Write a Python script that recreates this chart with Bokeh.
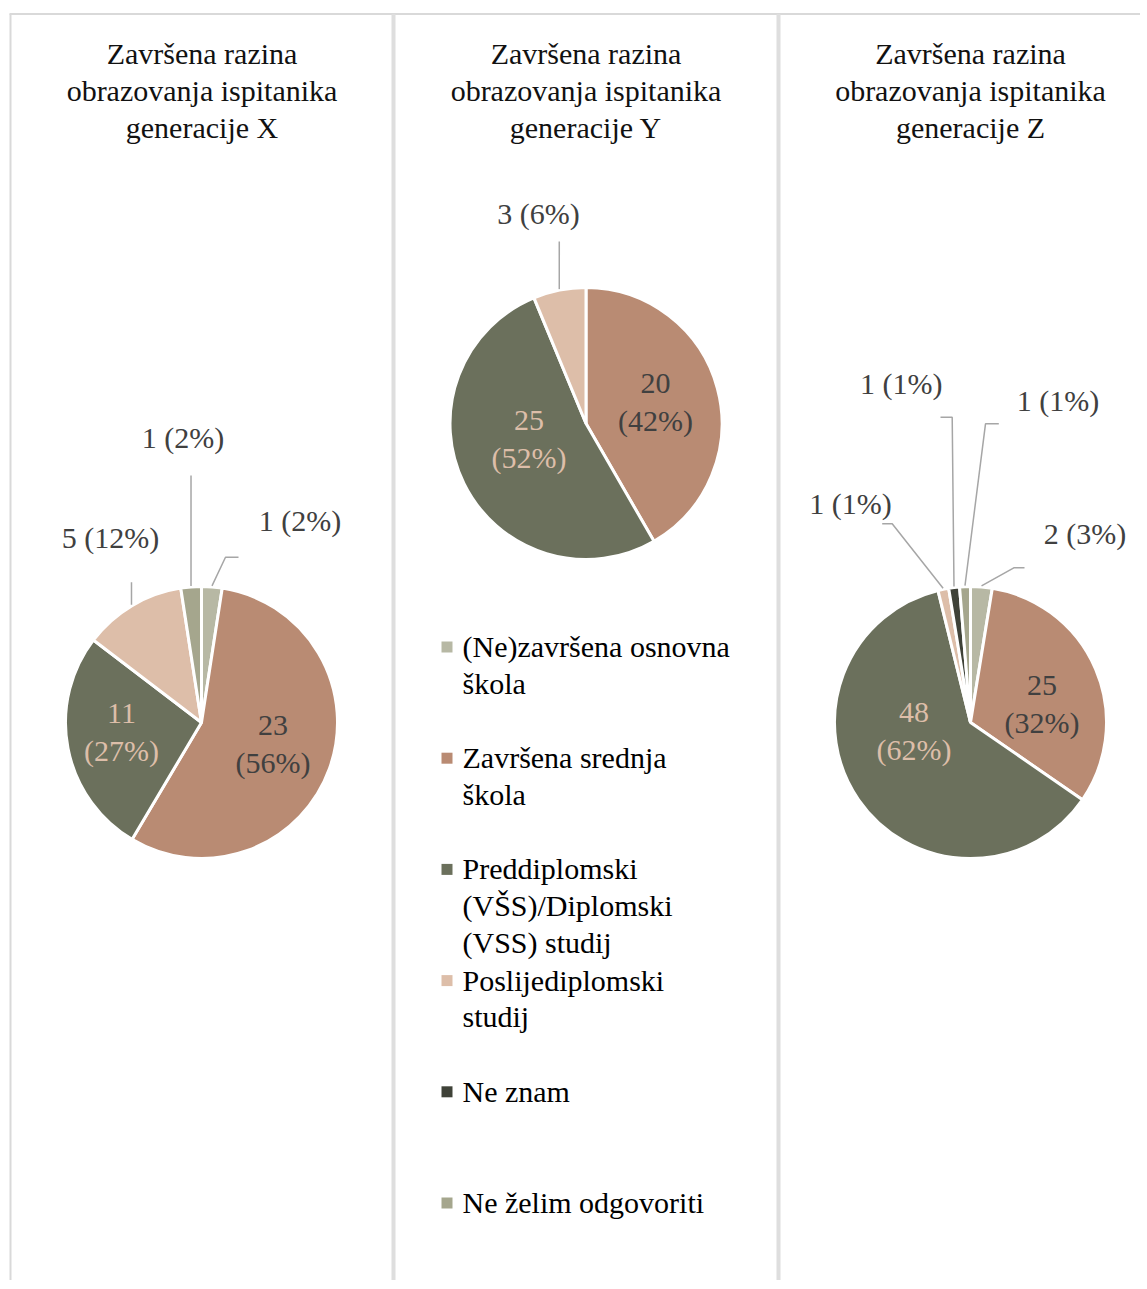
import math
import textwrap
from bokeh.plotting import figure
from bokeh.models import Range1d
from bokeh.embed import file_html
from bokeh.resources import INLINE
from bokeh.core.properties import value

# ---------------- data ----------------
categories = [
    "(Ne)završena osnovna škola",
    "Završena srednja škola",
    "Preddiplomski (VŠS)/Diplomski (VSS) studij",
    "Poslijediplomski studij",
    "Ne znam",
    "Ne želim odgovoriti",
]
gen_x = [1, 23, 11, 5, 0, 1]
gen_y = [0, 20, 25, 3, 0, 0]
gen_z = [2, 25, 48, 1, 1, 1]
titles = [
    "Završena razina obrazovanja ispitanika generacije X",
    "Završena razina obrazovanja ispitanika generacije Y",
    "Završena razina obrazovanja ispitanika generacije Z",
]

# ---------------- styles / layout ----------------
colors = ["#b7b8a4", "#b98b73", "#6b705c", "#ddbea9", "#3f4238", "#a5a68d"]
FONT = "Liberation Serif"
FS = "30px"
DARK = "#404040"
LEAD = "#a6a6a6"
W, H = 1140, 1280
TFIX = -11  # baseline correction for text rendering
R = 136
centers = [(201, 722), (585.5, 423), (970, 722)]
title_x = [201.5, 585.5, 970]
title_base = 64
line_gap = 36.8
# inside label (x, first baseline) per panel: {category index: pos}
inside_pos = [
    {1: (272.5, 736), 2: (121, 724)},
    {1: (655, 394), 2: (528.5, 431)},
    {1: (1041.5, 696), 2: (913.5, 722.5)},
]
inside_col = {1: DARK, 2: "#ddbea9"}
# outside labels: {category index: (label x, label baseline, leader start points)}
outside_pos = [
    {0: (299.5, 531, [(238, 556.7), (225, 556.7)]),
     5: (182.5, 448, [None, 475]),
     3: (110, 547.5, [None, 581.7])},
    {3: (538, 224.3, [None, 241])},
    {0: (1084.5, 544.3, [(1024, 567.3), (1013.3, 567.3)]),
     5: (1057.5, 411, [(998.3, 423.3), (985, 423.3)]),
     4: (900.8, 394.3, [(940, 416.7), (951.7, 416.7)]),
     3: (850, 514.3, [(881.7, 523.3), (891.7, 523.3)])},
]
legend_x = 446.5
legend_text_x = 462
legend_y0 = 646.5
legend_step = 111.2

p = figure(width=W, height=H, x_range=Range1d(0, W), y_range=Range1d(-H, 0),
           output_backend="svg", toolbar_location=None, min_border=0,
           x_axis_location=None, y_axis_location=None)
p.grid.visible = False
p.outline_line_color = None
p.background_fill_color = "white"

# panel borders
p.line([9, W], [-13.5, -13.5], line_color="#d9d9d9", line_width=2)
p.line([10, 10], [-13.5, -H], line_color="#d9d9d9", line_width=2)
for bx in (393, 778):
    p.line([bx, bx], [-13.5, -H], line_color="#dedede", line_width=4)


def txt(x, y, s, color="black", align="center"):
    p.text(x=[x], y=[-(y + TFIX)], text=[s], text_font=value(FONT), text_font_size=FS,
           text_color=color, text_align=align, text_baseline="alphabetic")


series = [gen_x, gen_y, gen_z]
for k, vals in enumerate(series):
    cx, cy = centers[k]
    total = sum(vals)
    cum = 0
    mids = {}
    for i, v in enumerate(vals):
        if v == 0:
            continue
        a0 = math.pi / 2 - 2 * math.pi * (cum + v) / total
        a1 = math.pi / 2 - 2 * math.pi * cum / total
        p.wedge(x=[cx], y=[-cy], radius=R, radius_units="screen", start_angle=[a0], end_angle=[a1],
                fill_color=colors[i], line_color="white", line_width=3)
        mids[i] = (a0 + a1) / 2
        cum += v
    # titles
    for j, line in enumerate(textwrap.wrap(titles[k], 22)):
        txt(title_x[k], title_base + j * line_gap, line, color="#111111")
    # inside labels
    for i, (lx, ly) in inside_pos[k].items():
        v = vals[i]
        pct = round(100 * v / total)
        txt(lx, ly, f"{v}", color=inside_col[i])
        txt(lx, ly + 37, f"({pct}%)", color=inside_col[i])
    # outside labels with leaders
    for i, (lx, ly, pts) in outside_pos[k].items():
        v = vals[i]
        pct = round(100 * v / total)
        txt(lx, ly, f"{v} ({pct}%)", color=DARK)
        m = mids[i]
        ex = cx + (R + 1) * math.cos(m)
        ey = cy - (R + 1) * math.sin(m)
        if pts[0] is None:
            xs = [ex, ex]
            ys = [pts[1], ey]
        else:
            xs = [pts[0][0], pts[1][0], ex]
            ys = [pts[0][1], pts[1][1], ey]
        p.line(xs, [-y for y in ys], line_color=LEAD, line_width=1.5)

# legend
for i, cat in enumerate(categories):
    my = legend_y0 + i * legend_step
    p.rect(x=[legend_x], y=[-my], width=11, height=11, width_units="screen", height_units="screen",
           fill_color=colors[i], line_color=None)
    for j, line in enumerate(textwrap.wrap(cat, 20)):
        txt(legend_text_x, my + 10.5 + j * line_gap, line, color="black", align="left")

open("out.html", "w").write(file_html(p, INLINE))
